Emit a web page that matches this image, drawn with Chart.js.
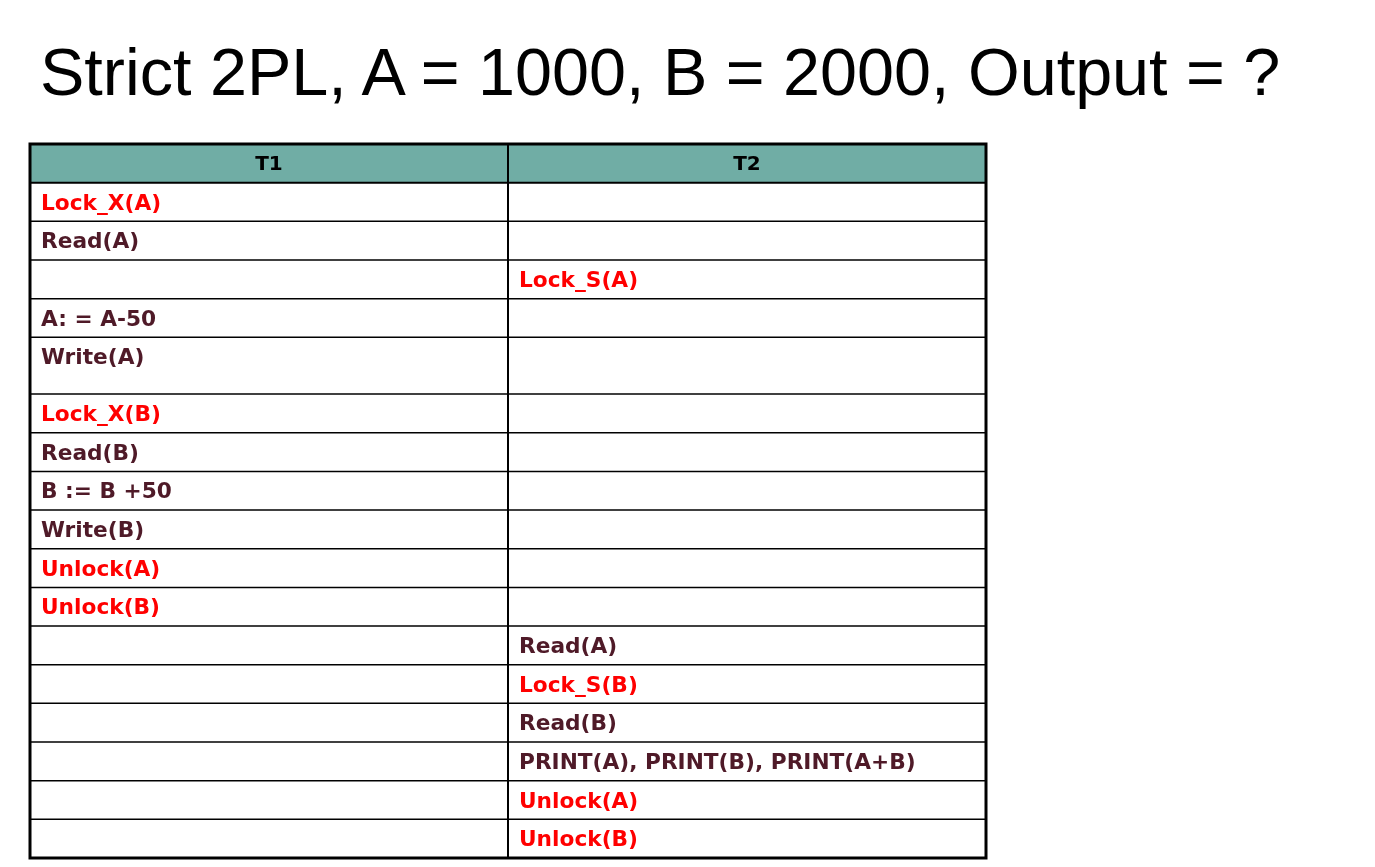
<!DOCTYPE html>
<html><head><meta charset="utf-8">
<script src="https://cdn.jsdelivr.net/npm/chart.js@4"></script>
<style>
html,body{margin:0;padding:0;background:#fff;width:1375px;height:867px;overflow:hidden}
#title{position:absolute;left:40px;top:39px;font-family:"Liberation Sans",Arial,sans-serif;font-size:66.5px;color:#000;white-space:nowrap;line-height:1}
#wrap{position:absolute;left:27px;top:141px;width:962px;height:720px}
</style></head><body>
<div id="title">Strict 2PL, A = 1000, B = 2000, Output = ?</div>
<div id="wrap"><canvas id="c"></canvas></div>
<script>
const headers = ["T1", "T2"];
const t1 = ["Lock_X(A)","Read(A)","","A: = A-50","Write(A)","Lock_X(B)","Read(B)","B := B +50","Write(B)","Unlock(A)","Unlock(B)","","","","","",""];
const t2 = ["","","Lock_S(A)","","","","","","","","","Read(A)","Lock_S(B)","Read(B)","PRINT(A), PRINT(B), PRINT(A+B)","Unlock(A)","Unlock(B)"];
const rowUnits = [1,1,1,1,1.47,1,1,1,1,1,1,1,1,1,1,1,1];
const headerUnits = 1;
const totalUnits = headerUnits + rowUnits.reduce((a,b)=>a+b,0);

const tablePlugin = {
  id:'table',
  afterDraw(chart){
    const ctx = chart.ctx, xs = chart.scales.x, ys = chart.scales.y;
    const x0 = xs.getPixelForValue(0), x1 = xs.getPixelForValue(1), x2 = xs.getPixelForValue(2);
    const yh0 = ys.getPixelForValue(0), yh1 = ys.getPixelForValue(headerUnits);
    ctx.save();
    ctx.fillStyle = '#70ada5';
    ctx.fillRect(x0, yh0, x2-x0, yh1-yh0);
    ctx.fillStyle = '#000';
    ctx.font = 'bold 20px "DejaVu Sans", Verdana, sans-serif';
    ctx.textAlign = 'center'; ctx.textBaseline = 'middle';
    ctx.fillText(headers[0], (x0+x1)/2, (yh0+yh1)/2+1);
    ctx.fillText(headers[1], (x1+x2)/2, (yh0+yh1)/2+1);
    ctx.strokeStyle = '#000'; ctx.lineWidth = 2;
    ctx.beginPath(); ctx.moveTo(x0, yh1); ctx.lineTo(x2, yh1); ctx.stroke();
    let u = headerUnits;
    ctx.textAlign = 'left'; ctx.textBaseline = 'alphabetic';
    ctx.font = 'bold 21.7px "DejaVu Sans", Verdana, sans-serif';
    for (let i=0;i<rowUnits.length;i++){
      const top = ys.getPixelForValue(u);
      u += rowUnits[i];
      const bot = ys.getPixelForValue(u);
      [[t1[i],x0],[t2[i],x1]].forEach(([s,x])=>{
        if(!s) return;
        ctx.fillStyle = /Lock|Unlock/.test(s) ? '#ff0000' : '#4f1a28';
        ctx.fillText(s, x+11, top+27);
      });
      if (i < rowUnits.length-1){
        ctx.lineWidth = 1.5;
        ctx.beginPath(); ctx.moveTo(x0, bot); ctx.lineTo(x2, bot); ctx.stroke();
      }
    }
    ctx.lineWidth = 2;
    ctx.beginPath(); ctx.moveTo(x1, yh0); ctx.lineTo(x1, ys.getPixelForValue(totalUnits)); ctx.stroke();
    ctx.lineWidth = 3;
    ctx.strokeRect(x0, yh0, x2-x0, ys.getPixelForValue(totalUnits)-yh0);
    ctx.restore();
  }
};

new Chart(document.getElementById('c'), {
  type:'scatter',
  data:{datasets:[]},
  options:{
    responsive:true, maintainAspectRatio:false, animation:false,
    layout:{padding:3},
    plugins:{legend:{display:false}, tooltip:{enabled:false}},
    scales:{
      x:{type:'linear', min:0, max:2, display:false},
      y:{type:'linear', min:0, max:totalUnits, reverse:true, display:false}
    }
  },
  plugins:[tablePlugin]
});
</script>
</body></html>
